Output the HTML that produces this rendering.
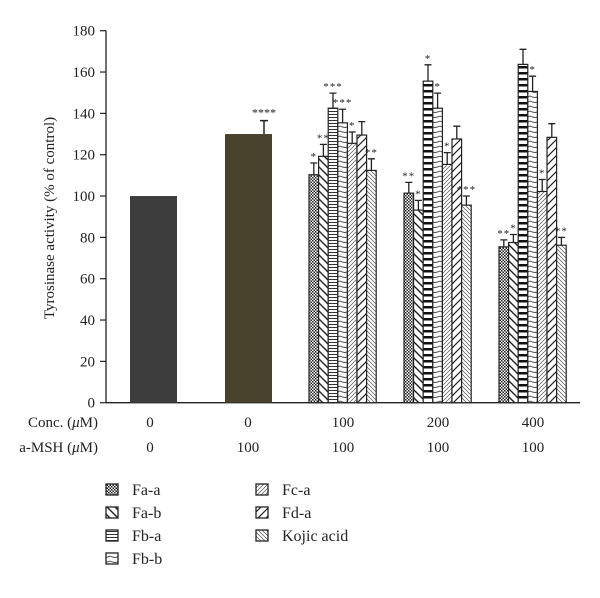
<!DOCTYPE html>
<html><head><meta charset="utf-8"><style>
html,body{margin:0;padding:0;background:#fff;}
svg text{font-family:"Liberation Serif","DejaVu Serif",serif;fill:#222;}
</style></head><body>
<svg id="chart" width="600" height="593" viewBox="0 0 600 593" xmlns="http://www.w3.org/2000/svg">
<defs>
<pattern id="p0" width="3" height="3" patternUnits="userSpaceOnUse"><rect width="3" height="3" fill="#fff"/><rect width="1.5" height="1.5" fill="#222"/><rect x="1.5" y="1.5" width="1.5" height="1.5" fill="#222"/></pattern>
<pattern id="p1" width="8" height="8" patternUnits="userSpaceOnUse"><rect width="8" height="8" fill="#fff"/><path d="M0,0 L8,8 M-4,4 L4,12 M4,-4 L12,4" stroke="#222" stroke-width="1.4"/></pattern>
<pattern id="p2" width="4" height="3" patternUnits="userSpaceOnUse"><rect width="4" height="3" fill="#fff"/><rect y="0" width="4" height="1" fill="#333"/></pattern>
<pattern id="p2b" width="4" height="6" patternUnits="userSpaceOnUse"><rect width="4" height="6" fill="#fff"/><rect y="0" width="4" height="2.5" fill="#111"/></pattern>
<pattern id="p3" width="10" height="5" patternUnits="userSpaceOnUse"><rect width="10" height="5" fill="#fff"/><path d="M0,1 Q5,4 10,1" stroke="#444" fill="none" stroke-width="0.9"/></pattern>
<pattern id="p4" width="4" height="4" patternUnits="userSpaceOnUse"><rect width="4" height="4" fill="#fff"/><path d="M0,4 L4,0 M-1,1 L1,-1 M3,5 L5,3" stroke="#555" stroke-width="0.7"/></pattern>
<pattern id="p5" width="8" height="8" patternUnits="userSpaceOnUse"><rect width="8" height="8" fill="#fff"/><path d="M0,8 L8,0 M-4,4 L4,-4 M4,12 L12,4" stroke="#222" stroke-width="1.2"/></pattern>
<pattern id="p6" width="4" height="4" patternUnits="userSpaceOnUse"><rect width="4" height="4" fill="#fff"/><path d="M0,0 L4,4 M-1,3 L1,5 M3,-1 L5,1" stroke="#555" stroke-width="0.7"/></pattern>
</defs>
<g id="g"></g>
</svg>
<script>
const series = ["Fa-a","Fa-b","Fb-a","Fb-b","Fc-a","Fd-a","Kojic acid"];
const concLabels = ["0","0","100","200","400"];
const mshLabels = ["0","100","100","100","100"];
const controlValues = [100, 130];
const controlErr = [0, 136.5];
const controlStars = ["", "****"];
const groupValues = [
  [110.3, 119.2, 142.5, 135.4, 125.5, 129.5, 112.4],
  [101.4, 93.2, 155.6, 142.5, 115.3, 127.6, 95.6],
  [75.4, 77.5, 163.7, 150.6, 102.2, 128.4, 76.2]
];
const groupErr = [
  [116, 125, 149.8, 142, 131, 136, 118],
  [106.6, 97.9, 163.5, 149.8, 121, 133.8, 100],
  [78.8, 81.4, 171, 158, 108, 135, 80]
];
const groupStars = [
  ["*","**","***","***","*","","**"],
  ["**","*","*","*","*","","***"],
  ["**","*","","*","*","","**"]
];
const yTicks = [0,20,40,60,80,100,120,140,160,180];

const NS="http://www.w3.org/2000/svg";
const g=document.getElementById('g');
const Y0=402.7, Y1=30.7, YMAX=180;
function y(v){return Y0-(Y0-Y1)*v/YMAX;}
function el(t,a,txt){const e=document.createElementNS(NS,t);for(const k in a)e.setAttribute(k,a[k]);if(txt!==undefined)e.textContent=txt;g.appendChild(e);return e;}
const fills=["url(#p0)","url(#p1)","url(#p2)","url(#p3)","url(#p4)","url(#p5)","url(#p6)"];

let a=el('line',{x1:106,y1:Y1,x2:106,y2:Y0,stroke:'#222','stroke-width':1.3});


a=el('line',{x1:106,y1:Y0,x2:580,y2:Y0,stroke:'#222','stroke-width':1.3});


yTicks.forEach(v=>{
  const t=el('line',{x1:100,y1:y(v),x2:106,y2:y(v),stroke:'#222','stroke-width':1.2});
  
  
  const l=el('text',{x:95,y:y(v)+5,'text-anchor':'end','font-size':15},String(v));
  
  
});
const yt=el('text',{transform:'translate(54,218) rotate(-90)','text-anchor':'middle','font-size':15},'Tyrosinase activity (% of control)');



const ctrlX=[130,225], ctrlFill=["#3d3d3d","#48422c"];
controlValues.forEach((v,i)=>{
  const r=el('rect',{x:ctrlX[i],y:y(v),width:47,height:Y0-y(v),fill:ctrlFill[i]});
  
  
  if(controlErr[i]){
    const cx=ctrlX[i]+39;
    el('path',{d:`M${cx},${y(v)} V${y(controlErr[i])} M${cx-4},${y(controlErr[i])} H${cx+4}`,stroke:'#222','stroke-width':1.5,fill:'none'});
    el('text',{x:cx,y:y(controlErr[i])-4,'text-anchor':'middle','font-size':12,'fill':'#555'},controlStars[i]);
  }
});
const gx=[309,404,499], bw=9.6;
groupValues.forEach((vals,gi)=>{
  vals.forEach((v,si)=>{
    const x=gx[gi]+si*bw;
    const f=(si===2&&gi>0)?"url(#p2b)":fills[si];
    const r=el('rect',{x:x,y:y(v),width:bw,height:Y0-y(v),fill:f,stroke:'#222','stroke-width':1.2});
    
    
    const cx=x+bw/2, e=groupErr[gi][si];
    el('path',{d:`M${cx},${y(v)} V${y(e)} M${cx-3.5},${y(e)} H${cx+3.5}`,stroke:'#222','stroke-width':1.3,fill:'none'});
    const s=groupStars[gi][si];
    if(s){const st=el('text',{x:cx,y:y(e)-3,'text-anchor':'middle','font-size':11,'letter-spacing':'1','fill':'#555'},s);
      
      }
  });
});
const colX=[150,248,343,438,533];
let t=el('text',{x:98,y:427,'text-anchor':'end','font-size':15},'');
t.innerHTML='Conc. (<tspan font-style="italic">μ</tspan>M)';


t=el('text',{x:98,y:452,'text-anchor':'end','font-size':15},'');
t.innerHTML='a-MSH (<tspan font-style="italic">μ</tspan>M)';


colX.forEach((x,i)=>{
  const c=el('text',{x:x,y:427,'text-anchor':'middle','font-size':15},concLabels[i]);
  
  
  const m=el('text',{x:x,y:452,'text-anchor':'middle','font-size':15},mshLabels[i]);
  
  
});
const legPos=[[106,490],[106,513],[106,536],[106,559],[256,490],[256,513],[256,536]];
series.forEach((s,i)=>{
  const [lx,ly]=legPos[i];
  const f=(i===3)?"url(#p3)":fills[i];
  const b=el('rect',{x:lx,y:ly-6,width:12,height:11,fill:f,stroke:'#222','stroke-width':1.3});
  
  
  const lt=el('text',{x:lx+26,y:ly+5,'font-size':16},s);
  
  
});
</script>
</body></html>
